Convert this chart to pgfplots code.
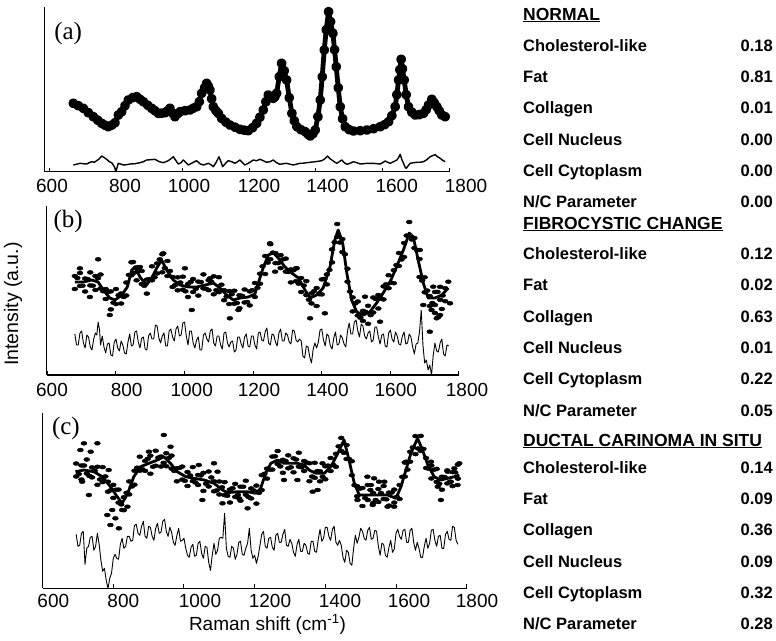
\documentclass[border=0pt]{standalone}
\usepackage{pgfplots}
\pgfplotsset{compat=1.18}
\usepackage{fontspec}
\setmainfont{Liberation Sans}
\newfontfamily\seriffont{Liberation Serif}
\newcommand\rowfont{\bfseries\fontsize{16.5}{19}\selectfont}
\newcommand\headfont{\bfseries\fontsize{17.5}{20}\selectfont}
\newcommand\tickfont{\fontsize{19}{22}\selectfont}
\newcommand{\row}[3]{%
  \node[anchor=base west,font=\rowfont,inner sep=0pt] at (523pt,-#1pt) {#2};
  \node[anchor=base east,font=\rowfont,inner sep=0pt] at (773pt,-#1pt) {#3};}
\newcommand{\head}[2]{%
  \node[anchor=base west,font=\headfont,inner sep=0pt] at (523pt,-#1pt) {\underline{#2}};}
\pgfplotsset{
  panel/.style={scale only axis, anchor=south west,
    axis x line=bottom, axis y line=left,
    axis line style={line width=1.1pt,-},
    ymin=0, ytick=\empty,
    xtick={600,800,1000,1200,1400,1600,1800}, xticklabels={},
    tick align=inside, major tick length=4pt,
    major tick style={line width=1pt,black},
    clip=false},
  dots/.style={only marks, mark=*, mark size=2pt, mark options={xscale=1.5, black}},
  fit/.style={black, line width=2.8pt, line join=round, no marks},
  resid/.style={black, line width=0.9pt, line join=round, no marks}
}
\begin{document}
\begin{tikzpicture}
\useasboundingbox (0pt,0pt) rectangle (776pt,-640pt);

% ---------------- panel (a)
\begin{axis}[panel, at={(44.7pt,-171.7pt)}, width=404.8pt, height=165pt,
  xmin=586, xmax=1801, ymax=165]
\addplot[black, line width=4.8pt, line join=round, line cap=round, mark=*, mark size=2.5pt, mark options={black}] coordinates {
(672,68.4)(687,66)(702,63.4)(717,59)(732,55)(745,51.5)(757,48.4)(767,46.5)(777,45)(787,46.5)(797,49)(807,56.7)(817,60)(827,66)(837,71.7)(850,74)(862,75)(872,72.5)(882,70)(895,66.5)(907,63.4)(917,61)(927,58.4)(937,58.5)(947,59)(955,61)(962,63.4)(970,58.5)(977,55)(985,58)(992,60)(1007,61)(1022,61.7)(1032,63.5)(1042,65)(1050,70)(1057,78.4)(1066,84)(1072,88.4)(1077,85.5)(1082,81.7)(1087,73)(1092,65)(1100,61)(1107,58.4)(1117,53.4)(1130,49.5)(1142,46.7)(1157,44.5)(1172,42.4)(1185,41.5)(1197,41)(1210,44)(1222,48.4)(1232,54.5)(1242,61.7)(1250,70)(1257,76.7)(1265,75)(1272,73.4)(1277,75)(1282,78.4)(1290,95)(1297,108.4)(1305,101)(1312,91.7)(1320,74)(1328,58.4)(1335,51)(1343,45)(1355,42)(1368,40)(1376,37.5)(1383,35.7)(1391,38)(1398,41.7)(1406,55)(1413,71.7)(1419,95)(1425,121.7)(1431,142)(1438,160)(1444,150)(1451,138.4)(1456,122)(1461,105)(1467,84)(1473,65)(1480,53)(1488,45)(1500,42)(1513,40.7)(1533,41)(1553,41.7)(1573,43)(1593,45)(1606,47)(1618,50)(1628,56)(1638,65)(1643,77)(1648,91.7)(1652,102)(1656,112.4)(1660,103)(1665,91.7)(1671,77)(1678,65)(1688,59.5)(1698,56.7)(1710,57)(1723,58.4)(1731,62)(1738,66.7)(1748,72.4)(1755,69)(1763,65)(1770,61)(1778,56.7)(1788,55)};
\addplot[resid, line width=1.4pt] coordinates {
(672,6.7)(682,7.5)(692,8.4)(702,8)(712,7.7)(720,9)(727,10)(735,9.5)(742,11)(750,13)(757,15.7)(765,14)(772,12.4)(780,10)(787,9)(795,5)(800,0)(803,4)(807,8.4)(815,7.5)(822,6.7)(832,7)(842,7.7)(857,8)(872,9)(882,10)(892,11.7)(905,12)(917,12.4)(930,10)(942,9)(957,11)(965,13)(972,15)(980,11)(987,7.7)(995,9)(1002,11.7)(1010,9)(1017,6.7)(1030,9)(1042,11)(1052,8)(1062,6.7)(1070,7.5)(1077,8.4)(1085,7)(1092,5)(1100,9)(1109,15)(1115,10)(1120,5)(1128,8)(1137,11)(1147,10)(1157,8.4)(1165,10)(1172,11.7)(1180,9)(1187,6.7)(1200,9)(1212,11.7)(1222,11)(1232,12.4)(1242,11)(1252,9.4)(1262,10)(1272,11.7)(1282,9)(1292,7.4)(1302,8)(1312,8.4)(1322,7.5)(1332,6.7)(1342,7.5)(1352,8.4)(1362,8.5)(1372,9)(1385,9.5)(1398,10)(1408,10.5)(1418,11)(1427,13)(1435,15.7)(1442,13)(1448,11.7)(1455,10)(1463,8.4)(1470,10)(1478,11.7)(1485,9)(1493,7.4)(1503,8.5)(1513,10)(1523,9)(1533,7.7)(1543,8)(1553,8.4)(1563,8.4)(1573,8.4)(1583,8)(1593,7.7)(1600,9)(1608,10.7)(1615,9.5)(1623,8.4)(1633,10)(1643,11.7)(1648,14)(1653,17.4)(1658,12)(1663,8.4)(1667,5)(1671,3.4)(1677,6)(1683,8.4)(1693,9)(1703,9.4)(1713,9.5)(1723,10)(1733,12)(1743,15)(1750,16)(1758,17)(1765,15)(1773,13.4)(1780,11.5)(1788,10)};
\node[font=\seriffont\fontsize{25}{28}\selectfont] at (rel axis cs:0.058,0.84) {(a)};
\end{axis}

% ---------------- panel (b)
\begin{axis}[panel, at={(46.7pt,-375pt)}, width=412.6pt, height=169pt,
  xmin=598, xmax=1801, ymax=169]
\addplot[dots] coordinates {
(680,99)(680,86)(695,102)(695,89)(710,96.5)(710,83.5)(725,102.6)(725,89.6)(740,99)(740,85)(755,100.5)(755,86.5)(770,86)(770,76)(785,83.6)(785,65.6)(800,86)(800,71)(815,81.5)(815,71.5)(830,92.5)(830,79.5)(845,112.7)(845,99.7)(860,107.7)(860,94.7)(875,104)(875,91)(890,95.4)(890,81.4)(905,108.7)(905,94.7)(920,111.6)(920,101.6)(935,120.7)(935,102.7)(950,114)(950,99)(965,98)(965,88)(980,97.7)(980,84.7)(995,98.3)(995,85.3)(1010,91)(1010,78)(1025,96)(1025,83)(1040,93.4)(1040,79.4)(1055,100.6)(1055,86.6)(1070,94.8)(1070,84.8)(1085,98.7)(1085,80.7)(1100,97.8)(1100,82.8)(1115,84.8)(1115,74.8)(1130,84)(1130,71)(1145,84.3)(1145,71.3)(1160,79.8)(1160,66.8)(1175,85.5)(1175,72.5)(1190,83.6)(1190,69.6)(1205,92)(1205,78)(1220,101.3)(1220,91.3)(1235,119)(1235,101)(1250,130.8)(1250,115.8)(1265,121.9)(1265,111.9)(1280,119.9)(1280,106.9)(1295,116.4)(1295,103.4)(1310,105.6)(1310,92.6)(1325,106.8)(1325,93.8)(1340,97)(1340,83)(1355,93.9)(1355,79.9)(1370,81.6)(1370,71.6)(1385,87)(1385,69)(1400,95.6)(1400,80.6)(1415,100.6)(1415,90.6)(1430,125.6)(1430,112.6)(1445,151)(1445,138)(1460,136)(1460,123)(1475,106.3)(1475,93.3)(1490,77.6)(1490,63.6)(1505,73.5)(1505,59.5)(1520,64.1)(1520,54.1)(1535,69.2)(1535,51.2)(1550,77.5)(1550,62.5)(1565,76.5)(1565,66.5)(1580,88.6)(1580,75.6)(1595,99.8)(1595,86.8)(1610,104.8)(1610,91.8)(1625,122)(1625,109)(1640,132)(1640,118)(1655,153)(1655,139)(1670,137)(1670,127)(1685,116)(1685,98)(1700,97.7)(1700,82.7)(1715,79)(1715,69)(1730,83)(1730,70)(1745,88.2)(1745,75.2)(1760,86.8)(1760,73.8)
(687.5,97)(702.5,89.3)(717.5,96)(732.5,89.3)(747.5,96.8)(762.5,83.8)(777.5,83.3)(792.5,72.3)(807.5,79.8)(822.5,78)(837.5,100.1)(852.5,102.2)(867.5,104.4)(882.5,89.2)(897.5,96)(912.5,97.7)(927.5,115.7)(942.5,106.9)(957.5,104)(972.5,89.9)(987.5,92.5)(1002.5,83.7)(1017.5,93)(1032.5,86.2)(1047.5,93)(1062.5,86.2)(1077.5,93.3)(1092.5,84.8)(1107.5,90.3)(1122.5,78.4)(1137.5,80.7)(1152.5,72)(1167.5,79.2)(1182.5,73)(1197.5,84.8)(1212.5,87.2)(1227.5,108.7)(1242.5,112.4)(1257.5,122.4)(1272.5,111.9)(1287.5,115.7)(1302.5,103)(1317.5,104.7)(1332.5,91.4)(1347.5,89.5)(1362.5,75.3)(1377.5,83.8)(1392.5,80.8)(1407.5,96.1)(1422.5,105.1)(1437.5,132.8)(1452.5,132.5)(1467.5,120.7)(1482.5,83.5)(1497.5,71.6)(1512.5,57.3)(1527.5,63.2)(1542.5,59.9)(1557.5,76)(1572.5,76.6)(1587.5,90.7)(1602.5,92.3)(1617.5,109.9)(1632.5,115.5)(1647.5,139.5)(1662.5,135.5)(1677.5,125)(1692.5,94.4)(1707.5,84.4)(1722.5,72)(1737.5,83.1)(1752.5,79.5)
(695,106.7)(748,115.7)(724,78)(782,60)(850,113)(870,108)(938,121.7)(1001,106.7)(1021,65)(1074,96.7)(1132,56.7)(1157,65)(1249,131.7)(1264,103.3)(1327,106.7)(1366,56.7)(1409,61.7)(1526,78.3)(1570,53.3)(1565,80)(1686,125)(1696,70)(1720,65)(1725,88.3)(1735,56.7)(1769,93.3)(1774,71.7)(1715,43.3)(1730,62)(1740,58)(1750,66)(1745,60)};
\addplot[fit] coordinates {
(680,93)(705,93)(729,95)(748,93)(763,85)(782,77)(797,75)(817,80)(833,88)(846,105)(855,108)(870,98)(889,90)(904,97)(919,107)(933,115)(948,105)(967,95)(987,90)(1011,88)(1035,88)(1060,90)(1084,92)(1103,87)(1123,80)(1142,75)(1162,77)(1186,78)(1205,81)(1215,92)(1230,108)(1244,120)(1259,122)(1273,117)(1293,108)(1312,102)(1332,97)(1351,85)(1366,77)(1385,80)(1404,87)(1424,108)(1438,135)(1448,145)(1461,132)(1473,102)(1487,75)(1502,63)(1521,60)(1540,63)(1560,72)(1579,82)(1599,93)(1618,108)(1638,125)(1655,142)(1667,138)(1681,115)(1696,92)(1710,77)(1730,77)(1750,80)(1769,87)};
\addplot[resid] coordinates {
(680,41)(685,30)(690,30)(695,42)(700,44)(705,32)(710,27)(715,40)(720,38)(725,28)(730,25)(735,36)(740,42)(744,40)(748,53)(752,45)(755,30)(760,39)(765,28)(770,22)(775,31)(780,32)(785,20)(790,19)(795,33)(800,36)(805,27)(810,24)(815,34)(820,30)(825,22)(830,21)(835,33)(840,41)(845,29)(850,30)(855,43)(860,44)(865,33)(870,27)(875,37)(880,38)(885,26)(890,25)(895,39)(900,42)(905,36)(910,36)(915,50)(920,49)(925,37)(930,32)(935,39)(940,42)(945,29)(950,29)(955,44)(960,46)(965,38)(970,34)(975,46)(980,49)(985,39)(990,40)(995,52)(1000,53)(1005,39)(1010,30)(1015,44)(1020,44)(1025,32)(1030,27)(1035,35)(1040,38)(1045,25)(1050,25)(1055,40)(1060,42)(1065,36)(1070,33)(1075,44)(1080,46)(1085,32)(1090,29)(1095,39)(1100,39)(1105,30)(1110,26)(1115,42)(1120,43)(1125,32)(1130,28)(1135,33)(1140,34)(1145,23)(1150,25)(1155,38)(1160,38)(1165,31)(1170,27)(1175,38)(1180,41)(1185,29)(1190,28)(1195,39)(1200,39)(1205,30)(1210,26)(1215,42)(1220,43)(1225,35)(1230,34)(1235,43)(1240,47)(1245,32)(1250,30)(1255,41)(1260,40)(1265,33)(1270,29)(1275,42)(1280,46)(1285,34)(1290,34)(1295,42)(1300,40)(1305,33)(1310,31)(1315,45)(1320,44)(1325,35)(1330,33)(1335,36)(1340,34)(1345,19)(1350,17)(1355,29)(1360,28)(1365,18)(1370,12)(1375,26)(1380,32)(1385,27)(1390,33)(1395,45)(1400,46)(1405,35)(1410,29)(1415,41)(1420,39)(1425,29)(1430,26)(1435,37)(1440,43)(1445,30)(1450,31)(1455,40)(1460,37)(1465,31)(1470,28)(1475,44)(1480,52)(1485,41)(1490,41)(1495,53)(1500,55)(1505,44)(1510,38)(1515,51)(1520,49)(1525,39)(1530,36)(1535,42)(1540,44)(1545,33)(1550,35)(1555,48)(1560,48)(1565,38)(1570,31)(1575,40)(1580,41)(1585,29)(1590,28)(1595,42)(1600,45)(1605,36)(1610,33)(1615,43)(1620,39)(1625,31)(1630,30)(1635,39)(1640,43)(1645,31)(1650,32)(1655,41)(1660,38)(1665,28)(1670,21)(1675,31)(1680,32)(1685,43)(1690,65)(1695,30)(1700,12)(1705,15)(1710,5)(1715,10)(1720,0)(1725,20)(1730,32)(1735,24)(1740,23)(1745,32)(1750,36)(1755,21)(1760,19)(1765,30)(1770,29)};
\node[font=\seriffont\fontsize{25}{28}\selectfont] at (rel axis cs:0.052,0.91) {(b)};
\end{axis}

% ---------------- panel (c)
\begin{axis}[panel, at={(42.6pt,-588.3pt)}, width=424.1pt, height=175.3pt,
  xmin=600, xmax=1800, ymax=175.3]
\addplot[dots] coordinates {
(695,124.8)(695,111.8)(710,122.8)(710,108.8)(725,128.8)(725,114.8)(740,120.9)(740,110.9)(755,121.5)(755,103.5)(770,121.2)(770,106.2)(785,106.6)(785,96.6)(800,103.4)(800,90.4)(815,98.7)(815,85.7)(830,91.1)(830,78.1)(845,106.9)(845,93.9)(860,117.6)(860,103.6)(875,131.6)(875,117.6)(890,127.4)(890,117.4)(905,132.6)(905,114.6)(920,137.6)(920,122.6)(935,131.8)(935,121.8)(950,135.1)(950,122.1)(965,132.7)(965,119.7)(980,120)(980,107)(995,121.7)(995,108.7)(1010,116.3)(1010,102.3)(1025,121.2)(1025,107.2)(1040,113.3)(1040,103.3)(1055,115.4)(1055,97.4)(1070,116.8)(1070,101.8)(1085,107)(1085,97)(1100,106.8)(1100,93.8)(1115,106.2)(1115,93.2)(1130,98.8)(1130,85.8)(1145,104.4)(1145,91.4)(1160,101.6)(1160,87.6)(1175,107.6)(1175,93.6)(1190,99.9)(1190,89.9)(1205,102.7)(1205,84.7)(1220,113.2)(1220,98.2)(1235,119.7)(1235,109.7)(1250,131.7)(1250,118.7)(1265,137.3)(1265,124.3)(1280,128.5)(1280,115.5)(1295,133)(1295,120)(1310,130)(1310,116)(1325,135.6)(1325,121.6)(1340,127.3)(1340,117.3)(1355,125.1)(1355,107.1)(1370,125.5)(1370,110.5)(1385,117)(1385,107)(1400,122)(1400,109)(1415,130.3)(1415,117.3)(1430,134.5)(1430,121.5)(1445,150.4)(1445,137.4)(1460,143.3)(1460,129.3)(1475,127.1)(1475,113.1)(1490,102.1)(1490,92.1)(1505,100.3)(1505,82.3)(1520,103.3)(1520,88.3)(1535,95.3)(1535,85.3)(1550,99.3)(1550,86.3)(1565,102.3)(1565,89.3)(1580,95.7)(1580,82.7)(1595,98.7)(1595,85.7)(1610,103.3)(1610,89.3)(1625,125.7)(1625,111.7)(1640,136.6)(1640,126.6)(1655,152.2)(1655,134.2)(1670,152.4)(1670,137.4)(1685,130.3)(1685,120.3)(1700,122.8)(1700,109.8)(1715,119.4)(1715,106.4)(1730,111.6)(1730,98.6)(1745,117.9)(1745,104.9)(1760,116.2)(1760,102.2)(1775,123.7)(1775,109.7)
(702.5,114.3)(717.5,122.8)(732.5,112.4)(747.5,117.7)(762.5,108.9)(777.5,111.9)(792.5,98)(807.5,98.6)(822.5,83.9)(837.5,95.5)(852.5,101.8)(867.5,120.6)(882.5,119)(897.5,129.5)(912.5,121.6)(927.5,130.7)(942.5,125.5)(957.5,130.4)(972.5,117.4)(987.5,120.4)(1002.5,107.5)(1017.5,112.8)(1032.5,105.8)(1047.5,112.9)(1062.5,104.6)(1077.5,110.9)(1092.5,97.9)(1107.5,101)(1122.5,92.5)(1137.5,100.1)(1152.5,93.5)(1167.5,101.6)(1182.5,91.3)(1197.5,97.8)(1212.5,95.5)(1227.5,114.5)(1242.5,118.7)(1257.5,132)(1272.5,121.9)(1287.5,127.3)(1302.5,121)(1317.5,128.8)(1332.5,121)(1347.5,125.7)(1362.5,111.8)(1377.5,117.3)(1392.5,111.5)(1407.5,122.7)(1422.5,123.4)(1437.5,142)(1452.5,135.4)(1467.5,129.2)(1482.5,103.1)(1497.5,99.7)(1512.5,90.3)(1527.5,98.3)(1542.5,88.3)(1557.5,95.3)(1572.5,89)(1587.5,95.7)(1602.5,91.5)(1617.5,111.5)(1632.5,118.7)(1647.5,140.9)(1662.5,139.8)(1677.5,139.4)(1692.5,119.6)(1707.5,118.6)(1722.5,104.5)(1737.5,111.3)(1752.5,106.6)(1767.5,116)
(717,145)(736,136.6)(755,145)(707,138.3)(731,93.3)(712,106.6)(787,118.3)(783,73.3)(797,78.3)(806,70)(792,63.3)(816,60)(825,78.3)(840,81.6)(943,153.3)(962,141.6)(901,136.6)(1042,123.3)(1085,125)(1095,116.6)(1052,88.3)(1109,85)(1180,80)(1156,90)(1283,108.3)(1321,108.3)(1364,96.6)(1378,98.3)(1392,125)(1519,111.6)(1538,110)(1552,106.6)(1567,106.6)(1529,103.3)(1534,83.3)(1576,81.6)(1595,81.6)(1491,88.3)(1628,126.6)(1699,126.6)(1727,88.3)(1779,125)(1765,120)(1746,116.6)(1755,106.6)(1774,103.3)(1718,101.6)};
\addplot[fit] coordinates {
(693,116.6)(717,118.3)(745,116.6)(769,111.6)(792,101.6)(811,91.6)(825,85)(841,95)(858,111.6)(877,121.6)(901,125)(925,128.3)(943,131.6)(962,125)(981,116.6)(1005,111.6)(1028,110)(1057,108.3)(1085,105)(1109,98.3)(1123,95.6)(1151,96.6)(1180,96.6)(1203,95)(1217,100)(1231,115)(1246,125)(1265,128.3)(1283,125)(1302,125)(1321,125)(1340,123.3)(1354,118.3)(1373,115)(1397,115)(1416,121.6)(1435,135)(1453,148.3)(1467,128.3)(1482,105)(1496,93.3)(1520,93.3)(1548,93.3)(1576,93.3)(1600,90)(1614,101.6)(1628,118.3)(1642,135)(1661,150)(1675,138.3)(1690,123.3)(1708,111.6)(1727,108.3)(1746,110)(1765,111.6)(1779,113.3)};
\addplot[resid] coordinates {
(695,54)(700,42)(705,43)(710,55)(715,57)(720,24)(725,40)(730,42)(735,51)(740,52)(745,38)(750,42)(755,55)(760,44)(765,28)(770,17)(775,20)(780,8)(785,0)(790,10)(795,15)(800,30)(805,34)(810,30)(815,29)(820,44)(825,50)(830,40)(835,42)(840,52)(845,52)(850,47)(855,48)(860,63)(865,64)(870,55)(875,53)(880,62)(885,67)(890,52)(895,50)(900,62)(905,61)(910,52)(915,48)(920,60)(925,65)(930,55)(935,56)(940,67)(945,69)(950,57)(955,52)(960,61)(965,56)(970,46)(975,43)(980,53)(985,60)(990,47)(995,48)(1000,50)(1005,40)(1010,33)(1015,31)(1020,41)(1025,44)(1030,32)(1035,33)(1040,45)(1045,47)(1050,35)(1055,30)(1060,42)(1065,41)(1070,26)(1075,18)(1080,33)(1085,45)(1090,34)(1095,38)(1100,50)(1105,51)(1110,50)(1115,75)(1120,40)(1125,32)(1130,31)(1135,42)(1140,40)(1145,29)(1150,34)(1155,46)(1160,47)(1165,34)(1170,33)(1175,40)(1180,45)(1185,60)(1190,38)(1195,30)(1200,33)(1205,25)(1210,32)(1215,43)(1220,54)(1225,57)(1230,42)(1235,40)(1240,50)(1245,51)(1250,41)(1255,38)(1260,53)(1265,55)(1270,46)(1275,46)(1280,54)(1285,59)(1290,43)(1295,42)(1300,49)(1305,45)(1310,36)(1315,32)(1320,44)(1325,49)(1330,37)(1335,37)(1340,45)(1345,43)(1350,35)(1355,34)(1360,47)(1365,47)(1370,37)(1375,36)(1380,49)(1385,59)(1390,47)(1395,50)(1400,61)(1405,61)(1410,52)(1415,48)(1420,59)(1425,62)(1430,46)(1435,43)(1440,48)(1445,43)(1450,31)(1455,26)(1460,38)(1465,36)(1470,25)(1475,23)(1480,40)(1485,53)(1490,45)(1495,51)(1500,60)(1505,57)(1510,50)(1515,48)(1520,58)(1525,61)(1530,49)(1535,50)(1540,58)(1545,57)(1550,42)(1555,33)(1560,45)(1565,44)(1570,33)(1575,31)(1580,41)(1585,48)(1590,36)(1595,39)(1600,55)(1605,59)(1610,52)(1615,49)(1620,58)(1625,59)(1630,46)(1635,46)(1640,58)(1645,60)(1650,46)(1655,38)(1660,46)(1665,40)(1670,31)(1675,31)(1680,42)(1685,50)(1690,40)(1695,45)(1700,58)(1705,59)(1710,48)(1715,42)(1720,52)(1725,53)(1730,40)(1735,40)(1740,54)(1745,57)(1750,49)(1755,48)(1760,62)(1765,61)(1770,48)(1775,44)};
\node[font=\seriffont\fontsize{25}{28}\selectfont] at (rel axis cs:0.055,0.91) {(c)};
\end{axis}

% tick labels
\foreach \x/\t in {52/600,125/800,189/1000,259/1200,327.5/1400,396.7/1600,466/1800}
  \node[anchor=base,font=\tickfont,inner sep=0pt] at (\x pt,-192.7pt) {\t};
\foreach \x/\t in {52/600,126.7/800,191.7/1000,259/1200,327.5/1400,395.8/1600,467/1800}
  \node[anchor=base,font=\tickfont,inner sep=0pt] at (\x pt,-396pt) {\t};
\foreach \x/\t in {53.3/600,123.3/800,200/1000,270/1200,340/1400,409/1600,477/1800}
  \node[anchor=base,font=\tickfont,inner sep=0pt] at (\x pt,-607.5pt) {\t};

% axis titles
\node[rotate=90, font=\fontsize{19.5}{22}\selectfont] at (13pt,-304pt) {Intensity (a.u.)};
\node[anchor=base, font=\fontsize{19}{21}\selectfont, inner sep=0pt] at (267.5pt,-630pt) {Raman shift (cm\textsuperscript{-1})};

% table
\head{20}{NORMAL}
\row{51}{Cholesterol-like}{0.18}
\row{82}{Fat}{0.81}
\row{113}{Collagen}{0.01}
\row{145}{Cell Nucleus}{0.00}
\row{176}{Cell Cytoplasm}{0.00}
\row{207}{N/C Parameter}{0.00}
\head{229}{FIBROCYSTIC CHANGE}
\row{259}{Cholesterol-like}{0.12}
\row{290}{Fat}{0.02}
\row{322}{Collagen}{0.63}
\row{353}{Cell Nucleus}{0.01}
\row{384}{Cell Cytoplasm}{0.22}
\row{416}{N/C Parameter}{0.05}
\head{446}{DUCTAL CARINOMA IN SITU}
\row{473}{Cholesterol-like}{0.14}
\row{504}{Fat}{0.09}
\row{535}{Collagen}{0.36}
\row{567}{Cell Nucleus}{0.09}
\row{598}{Cell Cytoplasm}{0.32}
\row{629}{N/C Parameter}{0.28}
\end{tikzpicture}
\end{document}
